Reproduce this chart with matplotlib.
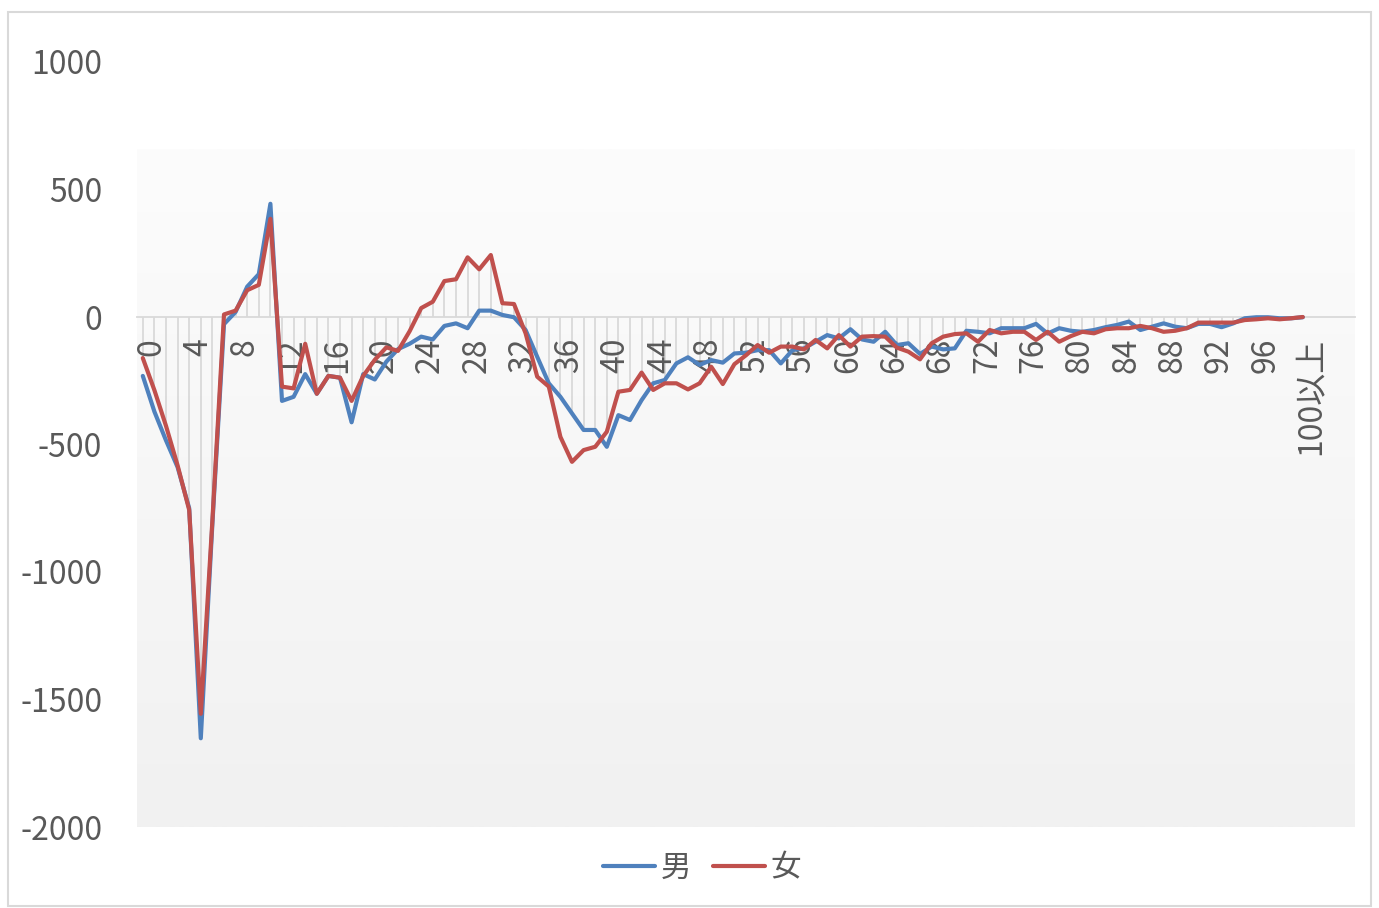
import numpy as np
import matplotlib
matplotlib.use("Agg")
import matplotlib.pyplot as plt
from matplotlib.transforms import ScaledTranslation
from matplotlib.colors import LinearSegmentedColormap
from matplotlib.patches import Rectangle

plt.rcParams['font.family'] = ['Noto Sans CJK JP', 'DejaVu Sans']
plt.rcParams['axes.unicode_minus'] = False

# Categories: ages 0..99 and "100以上"
categories = [str(i) for i in range(100)] + ["100以上"]

male = [-231, -371, -484, -589, -750, -1652, -810, -28, 20, 119,
        168, 444, -329, -313, -224, -301, -231, -238, -413, -224,
        -245, -175, -126, -105, -77, -88, -35, -25, -44, 25,
        25, 8, -1, -51, -156, -260, -313, -378, -443, -443,
        -509, -385, -404, -326, -260, -247, -182, -158, -188, -169,
        -179, -143, -140, -130, -130, -182, -130, -123, -97, -71,
        -84, -48, -88, -97, -58, -110, -103, -145, -116, -127,
        -123, -54, -58, -64, -44, -44, -44, -27, -65, -44,
        -54, -58, -51, -40, -31, -18, -51, -38, -25, -38,
        -44, -27, -27, -40, -25, -5, -1, -1, -5, -5,
        -1]

female = [-161, -287, -427, -582, -757, -1556, -797, 10, 25, 105,
          126, 385, -273, -280, -105, -301, -231, -238, -329, -231,
          -168, -119, -133, -56, 35, 60, 141, 148, 234, 187,
          243, 54, 51, -64, -234, -273, -470, -568, -522, -509,
          -450, -293, -286, -218, -286, -260, -260, -284, -260, -195,
          -263, -185, -150, -110, -140, -116, -116, -127, -90, -123,
          -71, -116, -77, -75, -77, -120, -136, -166, -103, -77,
          -67, -64, -97, -51, -64, -58, -58, -90, -58, -97,
          -75, -58, -64, -48, -44, -44, -35, -44, -58, -54,
          -44, -22, -22, -22, -22, -12, -9, -5, -9, -5,
          0]

tick_positions = list(range(0, 101, 4))
tick_labels = [categories[i] for i in tick_positions]

W, H, DPI = 1379, 908, 100
fig = plt.figure(figsize=(W / DPI, H / DPI), dpi=DPI)
fig.patch.set_facecolor('white')

# outer chart border
fig.patches.append(Rectangle((8 / W, 1 - 906 / H), (1371 - 8) / W, (906 - 12) / H,
                             transform=fig.transFigure, fill=False,
                             edgecolor='#d9d9d9', linewidth=1.5))

ax = fig.add_axes([137 / W, 1 - 827 / H, (1355 - 137) / W, (827 - 62) / H])
ax.set_xlim(-0.5, 104.5)
ax.set_ylim(-2000, 1000)
ax.set_facecolor('none')

# gradient plot-area fill
cmap = LinearSegmentedColormap.from_list('g', ['#fcfcfc', '#f1f1f1'])
grad = np.linspace(0, 1, 256).reshape(-1, 1)
ax.imshow(grad, cmap=cmap, aspect='auto', extent=[-0.5, 104.5, -2000, 655],
          origin='upper', zorder=0, interpolation='bilinear')

x = np.arange(len(categories))
m = np.array(male)
f = np.array(female)

# drop lines
ax.vlines(x, 0, np.maximum(m, f), color='#d9d9d9', linewidth=1.3, zorder=1)

ax.plot(x, male, color='#4F81BD', linewidth=3, label='男', zorder=3,
        solid_joinstyle='round', solid_capstyle='round')
ax.plot(x, female, color='#C0504D', linewidth=3, label='女', zorder=4,
        solid_joinstyle='round', solid_capstyle='round')

for s in ['top', 'right', 'left']:
    ax.spines[s].set_visible(False)
ax.spines['bottom'].set_position(('data', 0))
ax.spines['bottom'].set_color('#d9d9d9')
ax.spines['bottom'].set_linewidth(1.3)
ax.spines['bottom'].set_zorder(2)

ax.set_yticks([-2000, -1500, -1000, -500, 0, 500, 1000])
ax.tick_params(axis='y', length=0, pad=25, labelsize=23, labelcolor='#595959')
ax.set_xticks(tick_positions)
ax.set_xticklabels(tick_labels, rotation=90, va='top', ha='center')
ax.tick_params(axis='x', length=0, pad=15, labelsize=23, labelcolor='#595959')
off = ScaledTranslation(9 / DPI, 0, fig.dpi_scale_trans)
for lab in ax.get_xticklabels():
    lab.set_transform(lab.get_transform() + off)

leg = fig.legend(loc='center', bbox_to_anchor=(702 / W, 1 - 868 / H), ncol=2,
                 frameon=False, fontsize=22, handlelength=1.7, handletextpad=0.2,
                 columnspacing=0.7)
for t in leg.get_texts():
    t.set_color('#595959')

fig.savefig('out.png', dpi=DPI, facecolor='white')
